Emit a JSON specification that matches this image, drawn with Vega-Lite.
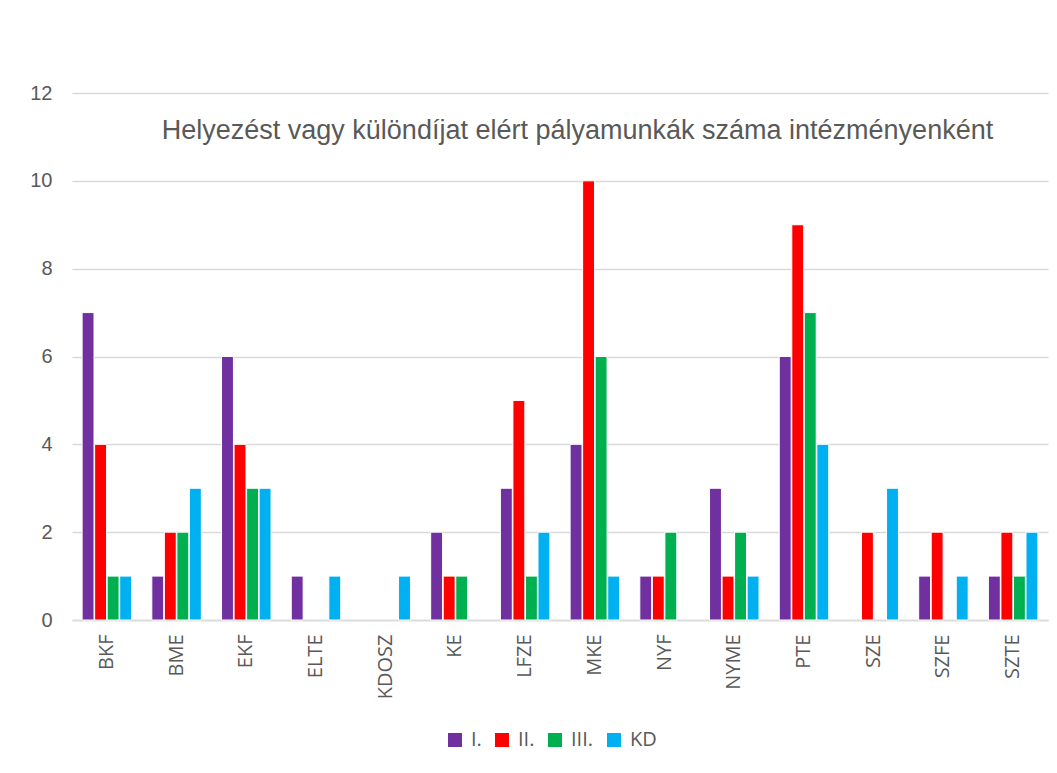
{
  "$schema": "https://vega.github.io/schema/vega-lite/v6.json",
  "autosize": "none",
  "width": 976,
  "height": 527,
  "padding": {"left": 72, "top": 93, "right": 9, "bottom": 153},
  "background": "white",
  "title": {
    "text": "Helyezést vagy különdíjat elért pályamunkák száma intézményenként",
    "anchor": "start",
    "dx": 132,
    "offset": -89,
    "baseline": "bottom",
    "font": "Liberation Sans",
    "fontSize": 27,
    "fontWeight": "normal",
    "color": "#595959"
  },
  "data": {
    "values": [
      {"intezmeny": "BKF", "helyezes": "I.", "db": 7},
      {"intezmeny": "BKF", "helyezes": "II.", "db": 4},
      {"intezmeny": "BKF", "helyezes": "III.", "db": 1},
      {"intezmeny": "BKF", "helyezes": "KD", "db": 1},
      {"intezmeny": "BME", "helyezes": "I.", "db": 1},
      {"intezmeny": "BME", "helyezes": "II.", "db": 2},
      {"intezmeny": "BME", "helyezes": "III.", "db": 2},
      {"intezmeny": "BME", "helyezes": "KD", "db": 3},
      {"intezmeny": "EKF", "helyezes": "I.", "db": 6},
      {"intezmeny": "EKF", "helyezes": "II.", "db": 4},
      {"intezmeny": "EKF", "helyezes": "III.", "db": 3},
      {"intezmeny": "EKF", "helyezes": "KD", "db": 3},
      {"intezmeny": "ELTE", "helyezes": "I.", "db": 1},
      {"intezmeny": "ELTE", "helyezes": "II.", "db": 0},
      {"intezmeny": "ELTE", "helyezes": "III.", "db": 0},
      {"intezmeny": "ELTE", "helyezes": "KD", "db": 1},
      {"intezmeny": "KDOSZ", "helyezes": "I.", "db": 0},
      {"intezmeny": "KDOSZ", "helyezes": "II.", "db": 0},
      {"intezmeny": "KDOSZ", "helyezes": "III.", "db": 0},
      {"intezmeny": "KDOSZ", "helyezes": "KD", "db": 1},
      {"intezmeny": "KE", "helyezes": "I.", "db": 2},
      {"intezmeny": "KE", "helyezes": "II.", "db": 1},
      {"intezmeny": "KE", "helyezes": "III.", "db": 1},
      {"intezmeny": "KE", "helyezes": "KD", "db": 0},
      {"intezmeny": "LFZE", "helyezes": "I.", "db": 3},
      {"intezmeny": "LFZE", "helyezes": "II.", "db": 5},
      {"intezmeny": "LFZE", "helyezes": "III.", "db": 1},
      {"intezmeny": "LFZE", "helyezes": "KD", "db": 2},
      {"intezmeny": "MKE", "helyezes": "I.", "db": 4},
      {"intezmeny": "MKE", "helyezes": "II.", "db": 10},
      {"intezmeny": "MKE", "helyezes": "III.", "db": 6},
      {"intezmeny": "MKE", "helyezes": "KD", "db": 1},
      {"intezmeny": "NYF", "helyezes": "I.", "db": 1},
      {"intezmeny": "NYF", "helyezes": "II.", "db": 1},
      {"intezmeny": "NYF", "helyezes": "III.", "db": 2},
      {"intezmeny": "NYF", "helyezes": "KD", "db": 0},
      {"intezmeny": "NYME", "helyezes": "I.", "db": 3},
      {"intezmeny": "NYME", "helyezes": "II.", "db": 1},
      {"intezmeny": "NYME", "helyezes": "III.", "db": 2},
      {"intezmeny": "NYME", "helyezes": "KD", "db": 1},
      {"intezmeny": "PTE", "helyezes": "I.", "db": 6},
      {"intezmeny": "PTE", "helyezes": "II.", "db": 9},
      {"intezmeny": "PTE", "helyezes": "III.", "db": 7},
      {"intezmeny": "PTE", "helyezes": "KD", "db": 4},
      {"intezmeny": "SZE", "helyezes": "I.", "db": 0},
      {"intezmeny": "SZE", "helyezes": "II.", "db": 2},
      {"intezmeny": "SZE", "helyezes": "III.", "db": 0},
      {"intezmeny": "SZE", "helyezes": "KD", "db": 3},
      {"intezmeny": "SZFE", "helyezes": "I.", "db": 1},
      {"intezmeny": "SZFE", "helyezes": "II.", "db": 2},
      {"intezmeny": "SZFE", "helyezes": "III.", "db": 0},
      {"intezmeny": "SZFE", "helyezes": "KD", "db": 1},
      {"intezmeny": "SZTE", "helyezes": "I.", "db": 1},
      {"intezmeny": "SZTE", "helyezes": "II.", "db": 2},
      {"intezmeny": "SZTE", "helyezes": "III.", "db": 1},
      {"intezmeny": "SZTE", "helyezes": "KD", "db": 2}
    ]
  },
  "mark": {"type": "bar", "stroke": "white", "strokeWidth": 1, "strokeOpacity": {"expr": "datum.db > 0 ? 1 : 0"}},
  "encoding": {
    "x": {
      "field": "intezmeny",
      "type": "nominal",
      "sort": null,
      "scale": {"paddingInner": 0.29, "paddingOuter": 0.145},
      "axis": {
        "title": null,
        "labelAngle": -90,
        "labelAlign": "right",
        "labelBaseline": "middle",
        "labelPadding": 14,
        "labelFont": "Open Sans",
        "labelFontSize": 20,
        "labelColor": "#595959",
        "ticks": false,
        "domainColor": "#d9d9d9",
        "domainWidth": 1.5,
        "grid": false
      }
    },
    "xOffset": {
      "field": "helyezes",
      "type": "nominal",
      "sort": ["I.", "II.", "III.", "KD"],
      "scale": {"paddingInner": 0.05}
    },
    "y": {
      "field": "db",
      "type": "quantitative",
      "scale": {"domain": [0, 12], "nice": false},
      "axis": {
        "title": null,
        "values": [0, 2, 4, 6, 8, 10, 12],
        "labelFont": "Liberation Sans",
        "labelFontSize": 20,
        "labelColor": "#595959",
        "labelPadding": 20,
        "ticks": false,
        "domain": false,
        "gridColor": "#d9d9d9",
        "gridWidth": 1.5
      }
    },
    "color": {
      "field": "helyezes",
      "type": "nominal",
      "sort": ["I.", "II.", "III.", "KD"],
      "scale": {
        "domain": ["I.", "II.", "III.", "KD"],
        "range": ["#7030A0", "#FF0000", "#00B050", "#00B0F0"]
      },
      "legend": {
        "title": null,
        "orient": "none",
        "legendX": 373,
        "legendY": 637,
        "direction": "horizontal",
        "symbolType": "square",
        "symbolSize": 196,
        "symbolStrokeWidth": 0,
        "labelFont": "Open Sans",
        "labelFontSize": 20,
        "labelColor": "#595959",
        "columnPadding": 10,
        "labelOffset": 6
      }
    }
  },
  "config": {"view": {"stroke": null}}
}
